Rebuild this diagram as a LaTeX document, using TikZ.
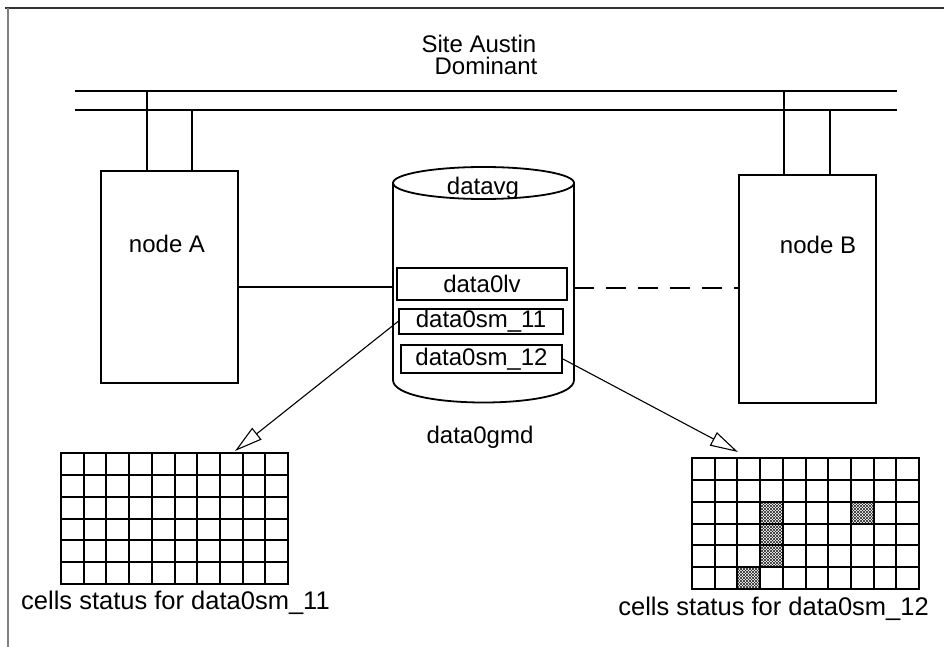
\documentclass[tikz,border=0pt]{standalone}
\usepackage{fontspec}
\setmainfont{Liberation Sans}
\usetikzlibrary{arrows.meta,patterns}
\begin{document}
\begin{tikzpicture}[x=1pt,y=-1pt,
  thickline/.style={line width=2pt},
  box/.style={draw, line width=2pt, rectangle, inner sep=0pt},
  lbl/.style={font=\fontsize{24}{28}\selectfont, inner sep=0pt},
  biglbl/.style={font=\fontsize{25.5}{30}\selectfont, inner sep=0pt},
  arr/.style={line width=1.1pt, -{Triangle[open, length=28pt, width=15pt, line width=1.1pt]}},
  gridline/.style={line width=2pt, line cap=rect},
  hatchA/.style={pattern=north east lines, pattern color=black!85},
  hatchB/.style={pattern=north west lines, pattern color=black!85}]
\useasboundingbox (0,0) rectangle (944,647);
\fill[white] (0,0) rectangle (944,647);
% frame
\draw[line width=2pt, black!80] (5,8) -- (944,8);
\draw[line width=2pt, black!50] (8,8) -- (8,647);
% title
\node[lbl, anchor=base] (site) at (479,53) {Site Austin};
\node[lbl, anchor=base] (dom) at (486,75) {Dominant};
% bus
\coordinate (busA1) at (75,91);  \coordinate (busA2) at (897,91);
\coordinate (busB1) at (75,110); \coordinate (busB2) at (897,110);
\draw[thickline] (busA1) -- (busA2);
\draw[thickline] (busB1) -- (busB2);
% hosts
\node[box, minimum width=137pt, minimum height=212pt] (nodeA) at (169.5,277) {};
\node[box, minimum width=137pt, minimum height=228pt] (nodeB) at (807.5,289) {};
\node[lbl, anchor=base] (labA) at (167,252) {node A};
\node[lbl, anchor=base] (labB) at (818,253) {node B};
\coordinate (dA1) at (147,91);  \coordinate (dA2) at (192,110);
\coordinate (dB1) at (784,91);  \coordinate (dB2) at (830,110);
\draw[thickline] (dA1) -- (dA1 |- nodeA.north);
\draw[thickline] (dA2) -- (dA2 |- nodeA.north);
\draw[thickline] (dB1) -- (dB1 |- nodeB.north);
\draw[thickline] (dB2) -- (dB2 |- nodeB.north);
% cylinder
\draw[line width=1.8pt] (393,183) -- (393,380) .. controls (393,410) and (574,410) .. (574,380) -- (574,183);
\draw[line width=1.8pt] (483.5,183) ellipse [x radius=90.5pt, y radius=16pt];
\node[lbl, anchor=base] (vg) at (483,194) {datavg};
\node[lbl, anchor=base] (gmd) at (480,443) {data0gmd};
\coordinate (cylL) at (393,287);
\coordinate (cylR) at (574,288);
\node[box, lbl, minimum width=170pt, minimum height=32pt] (lv) at (482,284) {data0lv};
\node[box, lbl, minimum width=164pt, minimum height=25pt] (sm11) at (481,321.5) {data0sm\_11};
\node[box, lbl, minimum width=161pt, minimum height=28pt] (sm12) at (481.5,359) {data0sm\_12};
% links
\draw[line width=2pt] (nodeA.east |- cylL) -- (cylL);
\draw[line width=2pt, dash pattern=on 20pt off 12pt] (cylR) -- (cylR -| nodeB.west);
% arrows
\coordinate (tipL) at (235,451);
\coordinate (tipR) at (738,452);
\draw[arr] (sm11.west) -- (tipL);
\draw[arr] (sm12.east) -- (tipR);
% grids
\foreach \c/\r in {3/2,3/3,3/4,7/2,2/5} {
  \fill[hatchA] ({692+22.7*\c},{458+131/6*\r}) rectangle ++(22.7,131/6);
  \fill[hatchB] ({692+22.7*\c},{458+131/6*\r}) rectangle ++(22.7,131/6);
}
\foreach \i in {0,...,10} {
  \draw[gridline] ({61+22.7*\i},453) -- ({61+22.7*\i},584);
  \draw[gridline] ({692+22.7*\i},458) -- ({692+22.7*\i},589);
}
\foreach \j in {0,...,6} {
  \draw[gridline] (61,{453+131/6*\j}) -- (288,{453+131/6*\j});
  \draw[gridline] (692,{458+131/6*\j}) -- (919,{458+131/6*\j});
}
\node[biglbl, anchor=base west] (capL) at (21,609) {cells status for data0sm\_11};
\node[biglbl, anchor=base east] (capR) at (929,615) {cells status for data0sm\_12};
\end{tikzpicture}
\end{document}
